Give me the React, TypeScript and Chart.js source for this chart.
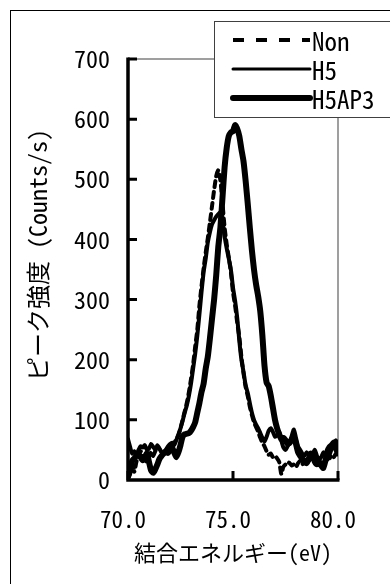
import { useEffect, useRef } from "react";
import { Chart, registerables } from "chart.js";

Chart.register(...registerables);

// Binding energy grid (eV)
const energies = [
  70.0, 70.1, 70.2, 70.3, 70.4, 70.5, 70.6, 70.7, 70.8, 70.9,
  71.0, 71.1, 71.2, 71.3, 71.4, 71.5, 71.6, 71.7, 71.8, 71.9,
  72.0, 72.1, 72.2, 72.3, 72.4, 72.5, 72.6, 72.7, 72.8, 72.9,
  73.0, 73.1, 73.2, 73.3, 73.4, 73.5, 73.6, 73.7, 73.8, 73.9,
  74.0, 74.1, 74.2, 74.3, 74.4, 74.5, 74.6, 74.7, 74.8, 74.9,
  75.0, 75.1, 75.2, 75.3, 75.4, 75.5, 75.6, 75.7, 75.8, 75.9,
  76.0, 76.1, 76.2, 76.3, 76.4, 76.5, 76.6, 76.7, 76.8, 76.9,
  77.0, 77.1, 77.2, 77.3, 77.4, 77.5, 77.6, 77.7, 77.8, 77.9,
  78.0, 78.1, 78.2, 78.3, 78.4, 78.5, 78.6, 78.7, 78.8, 78.9,
  79.0, 79.1, 79.2, 79.3, 79.4, 79.5, 79.6, 79.7, 79.8, 79.9,
  80.0,
];

// Peak intensity (Counts/s) for each sample
const nonCounts = [
  4, 10, 22, 14, 30, 42, 48, 40, 34, 30,
  38, 46, 40, 48, 54, 52, 46, 42, 48, 54,
  58, 56, 62, 68, 74, 86, 100, 114, 128, 146,
  168, 192, 222, 250, 290, 322, 352, 378, 402, 428,
  455, 482, 505, 515, 498, 460, 420, 392, 370, 345,
  312, 290, 262, 238, 205, 178, 155, 140, 122, 108,
  96, 88, 80, 70, 62, 56, 48, 42, 44, 38,
  40, 36, 30, 10, 22, 26, 30, 28, 24, 26,
  22, 28, 32, 26, 30, 34, 30, 38, 34, 28,
  32, 36, 30, 26, 34, 40, 36, 42, 38, 44,
  40,
];

const h5Counts = [
  68, 55, 44, 48, 42, 50, 56, 54, 58, 50,
  52, 60, 55, 50, 58, 52, 46, 44, 50, 56,
  60, 62, 58, 66, 76, 86, 98, 112, 124, 140,
  160, 185, 210, 240, 275, 312, 345, 368, 395, 412,
  425, 432, 438, 442, 445, 430, 405, 385, 368, 350,
  320, 298, 270, 232, 200, 180, 158, 145, 128, 112,
  100, 92, 86, 78, 70, 64, 72, 82, 86, 80,
  72, 74, 80, 66, 54, 50, 56, 62, 74, 84,
  70, 56, 50, 44, 40, 46, 42, 36, 44, 50,
  40, 34, 38, 46, 40, 34, 42, 52, 60, 66,
  58,
];

const h5ap3Counts = [
  5, 18, 32, 36, 40, 44, 38, 33, 38, 44,
  30, 16, 12, 18, 26, 35, 40, 44, 48, 45,
  50, 54, 46, 38, 46, 58, 72, 76, 77, 78,
  82, 88, 96, 112, 128, 146, 160, 185, 205, 235,
  268, 300, 340, 388, 420, 470, 520, 552, 572, 578,
  580, 590, 584, 572, 550, 530, 498, 460, 420, 382,
  350, 325, 305, 280, 240, 190, 162, 156, 140, 120,
  100, 86, 76, 68, 70, 66, 60, 62, 68, 72,
  60, 46, 40, 35, 30, 28, 34, 44, 40, 30,
  26, 30, 24, 20, 32, 48, 55, 58, 62, 52,
  46,
];

const seriesNames = ["Non", "H5", "H5AP3"];
const seriesValues = [nonCounts, h5Counts, h5ap3Counts];

const xTickValues = [70, 75, 80];
const yTickValues = [100, 200, 300, 400, 500, 600, 700];

const xTitle = "結合エネルギー(eV)";
const yTitle = "ピーク強度 (Counts/s)";

// Gothic face with half-width Latin glyphs
const FONT_GOTHIC = '"Noto Sans Mono CJK JP", "Noto Sans CJK JP", "DejaVu Sans Mono", monospace';

const lineStyles = [
  { width: 4, dash: [6, 5], legendWidth: 4, legendDash: [11, 12] },
  { width: 4, dash: [] as number[], legendWidth: 3, legendDash: [] as number[] },
  { width: 6, dash: [] as number[], legendWidth: 6, legendDash: [] as number[] },
];

// White page, outer frame, plot frame, axes with inward ticks, y title
const framePlugin = {
  id: "frameAndAxes",
  beforeDraw(chart: any) {
    const { ctx, width, height } = chart;
    ctx.save();
    ctx.fillStyle = "#ffffff";
    ctx.fillRect(0, 0, width, height);
    ctx.strokeStyle = "#000000";
    ctx.lineWidth = 1;
    ctx.strokeRect(10.5, 10.5, width + 20, height + 20);
    ctx.restore();
  },
  beforeDatasetsDraw(chart: any) {
    const { ctx, chartArea } = chart;
    const { left, right, top, bottom } = chartArea;
    ctx.save();
    ctx.strokeStyle = "#808080";
    ctx.lineWidth = 1.5;
    ctx.beginPath();
    ctx.moveTo(left, top);
    ctx.lineTo(right, top);
    ctx.lineTo(right, bottom);
    ctx.stroke();
    ctx.restore();
  },
  afterDatasetsDraw(chart: any) {
    const { ctx, chartArea, scales } = chart;
    const { left, right, top, bottom } = chartArea;
    ctx.save();
    ctx.strokeStyle = "#000000";
    ctx.lineCap = "butt";
    ctx.lineWidth = 3.5;
    ctx.beginPath();
    ctx.moveTo(left, top - 1.5);
    ctx.lineTo(left, bottom);
    ctx.lineTo(right + 1.5, bottom);
    ctx.stroke();
    ctx.lineWidth = 3;
    ctx.beginPath();
    for (const v of yTickValues) {
      const y = scales.y.getPixelForValue(v);
      ctx.moveTo(left, y);
      ctx.lineTo(left + 9, y);
    }
    for (const v of xTickValues) {
      const x = scales.x.getPixelForValue(v);
      ctx.moveTo(x, bottom);
      ctx.lineTo(x, bottom - 9);
    }
    ctx.stroke();

    // rotated y-axis title
    ctx.translate(38, 255);
    ctx.rotate(-Math.PI / 2);
    ctx.fillStyle = "#000000";
    ctx.font = `24px ${FONT_GOTHIC}`;
    ctx.textAlign = "center";
    ctx.textBaseline = "middle";
    ctx.fillText(yTitle, 0, 0);
    ctx.restore();
  },
};

// Boxed legend in the upper right, overlapping the plot frame
const legendPlugin = {
  id: "boxLegend",
  afterDraw(chart: any) {
    const { ctx } = chart;
    const box = { x: 214.5, y: 21.5, w: 176, h: 96 };
    ctx.save();
    ctx.fillStyle = "#ffffff";
    ctx.fillRect(box.x, box.y, box.w, box.h);
    ctx.strokeStyle = "#404040";
    ctx.lineWidth = 1;
    ctx.strokeRect(box.x, box.y, box.w, box.h);
    ctx.font = `25px ${FONT_GOTHIC}`;
    ctx.textBaseline = "middle";
    ctx.textAlign = "left";
    chart.data.datasets.forEach((ds: any, i: number) => {
      const y = 40 + i * 29;
      const st = lineStyles[i];
      ctx.strokeStyle = "#000000";
      ctx.lineWidth = st.legendWidth;
      ctx.setLineDash(st.legendDash);
      ctx.lineCap = st.legendDash.length ? "butt" : "round";
      ctx.beginPath();
      ctx.moveTo(233, y);
      ctx.lineTo(310, y);
      ctx.stroke();
      ctx.setLineDash([]);
      ctx.fillStyle = "#000000";
      ctx.fillText(ds.label, 312, y + 1);
    });
    ctx.restore();
  },
};

export default function App() {
  const canvasRef = useRef<HTMLCanvasElement | null>(null);

  useEffect(() => {
    const canvas = canvasRef.current;
    if (!canvas) return;

    const datasets = seriesNames.map((name, i) => ({
      label: name,
      data: energies.map((e, j) => ({ x: e, y: seriesValues[i][j] })),
      borderColor: "#000000",
      backgroundColor: "#000000",
      borderWidth: lineStyles[i].width,
      borderDash: lineStyles[i].dash,
      borderJoinStyle: "round" as const,
      borderCapStyle: "round" as const,
      pointRadius: 0,
      tension: 0.2,
      fill: false,
    }));

    const chart = new Chart(canvas, {
      type: "line",
      data: { datasets },
      options: {
        animation: false,
        responsive: false,
        devicePixelRatio: 1,
        layout: { padding: { left: 10, top: 59, right: 52, bottom: 0 } },
        plugins: {
          legend: { display: false },
          tooltip: { enabled: false },
        },
        scales: {
          x: {
            type: "linear",
            min: 70,
            max: 80,
            afterBuildTicks: (scale: any) => {
              scale.ticks = xTickValues.map((v) => ({ value: v }));
            },
            afterFit: (scale: any) => {
              scale.height = 104;
            },
            ticks: {
              callback: (v: any) => Number(v).toFixed(1),
              color: "#000000",
              font: { family: FONT_GOTHIC, size: 23 },
              padding: 25,
              labelOffset: -5,
              maxRotation: 0,
            },
            grid: { display: false, drawTicks: false },
            border: { display: false },
            title: {
              display: true,
              text: xTitle,
              color: "#000000",
              font: { family: FONT_GOTHIC, size: 22 },
              padding: { top: 0, bottom: 18 },
            },
          },
          y: {
            min: 0,
            max: 700,
            afterBuildTicks: (scale: any) => {
              scale.ticks = [0, ...yTickValues].map((v) => ({ value: v }));
            },
            afterFit: (scale: any) => {
              scale.width = 118;
            },
            ticks: {
              color: "#000000",
              font: { family: FONT_GOTHIC, size: 24 },
              padding: 18,
            },
            grid: { display: false, drawTicks: false },
            border: { display: false },
            title: { display: false },
          },
        },
      },
      plugins: [framePlugin, legendPlugin],
    });

    return () => chart.destroy();
  }, []);

  return (
    <div style={{ position: "fixed", left: 0, top: 0, width: 390, height: 584 }}>
      <canvas ref={canvasRef} width={390} height={584} style={{ display: "block" }} />
    </div>
  );
}
